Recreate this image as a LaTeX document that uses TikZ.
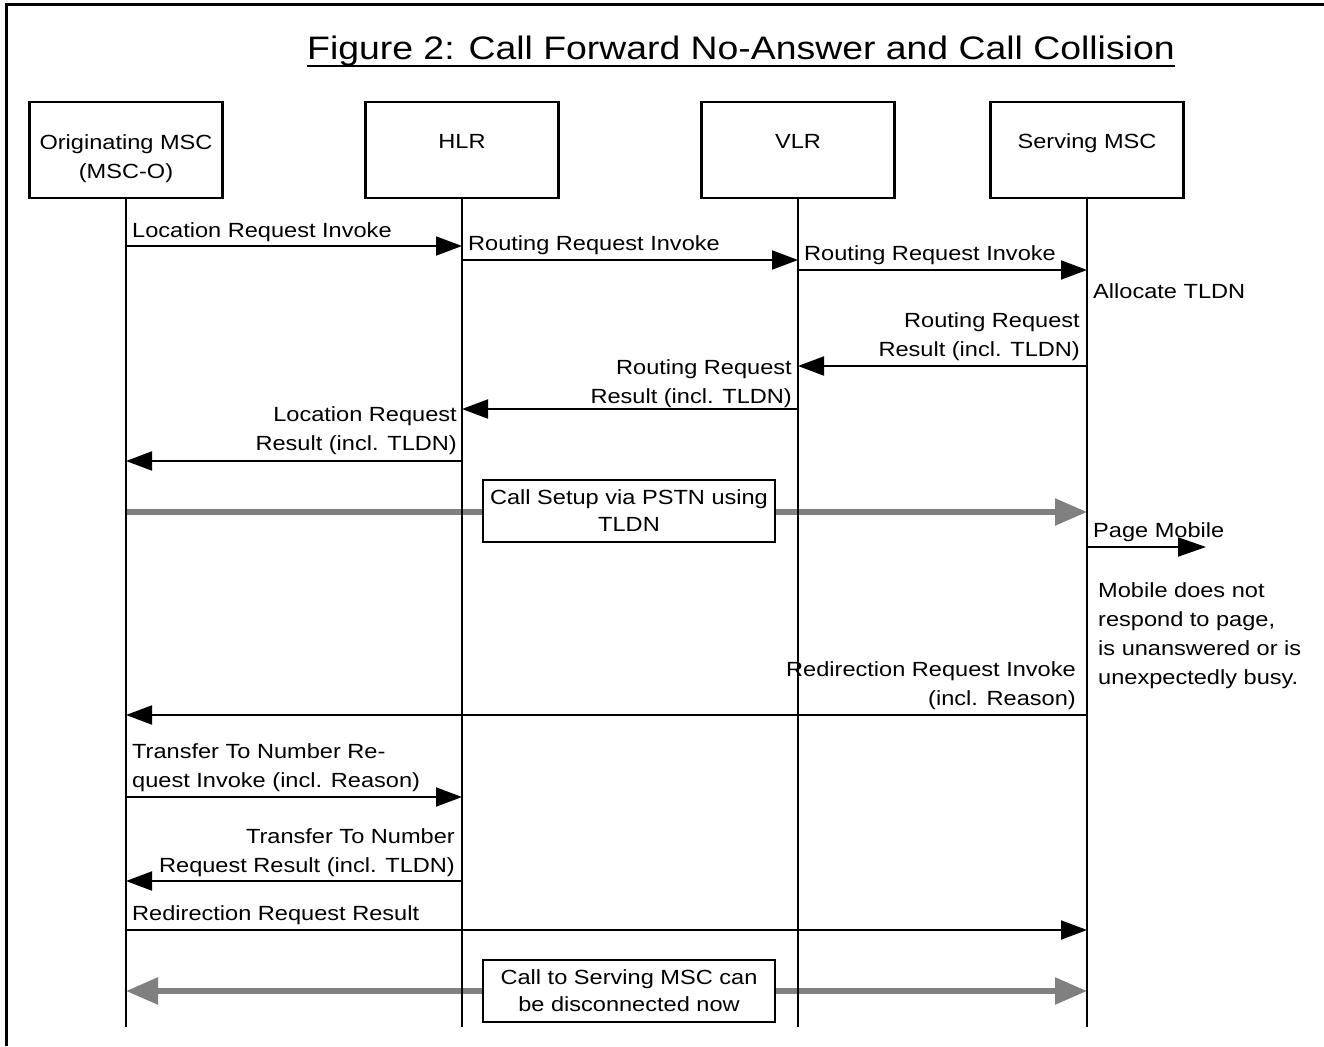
\documentclass[tikz,border=0pt]{standalone}
\usepackage{fontspec}
\setmainfont{Liberation Sans}[FakeStretch=1.15]
\usetikzlibrary{arrows.meta}
\definecolor{gline}{RGB}{128,128,128}
\begin{document}
\begin{tikzpicture}[x=1pt,y=-1pt,
  txt/.style={inner sep=0pt, font=\fontsize{20.5}{29}\selectfont},
  box/.style={draw, line width=2.5pt, minimum width=193pt, minimum height=96pt, inner sep=0pt},
  cbox/.style={draw, fill=white, line width=2.5pt, minimum width=292pt, minimum height=62pt, inner sep=0pt, align=center, font=\fontsize{20.5}{27}\selectfont},
  life/.style={line width=2.5pt},
  msg/.style={line width=2pt, -{Triangle[length=26pt,width=19pt]}},
  gmsg/.style={line width=5.5pt, draw=gline, -{Triangle[length=32pt,width=26pt]}},
  gdmsg/.style={line width=5.5pt, draw=gline, {Triangle[length=32pt,width=26pt]}-{Triangle[length=32pt,width=26pt]}}]
\useasboundingbox (0,0) rectangle (1324,1046);
% frame
\draw[line width=3pt] (6,1046) -- (6,5) -- (1324,5);
% title
\node[inner sep=0pt, anchor=base, font=\fontsize{32.5}{36}\selectfont] (title) at (741,60) {Figure 2: Call Forward No-Answer and Call Collision};
\draw[line width=2pt] (title.base west |- 0,66) -- (title.base east |- 0,66);
% entity boxes
\node[box] (o) at (126,150) {};
\node[box] (h) at (462,150) {};
\node[box] (v) at (798,150) {};
\node[box] (s) at (1087,150) {};
\node[txt, anchor=base, align=center] (ot) at (126,178) {Originating MSC\\(MSC-O)};
\node[txt, anchor=base] (ht) at (462,148) {HLR};
\node[txt, anchor=base] (vt) at (798,148) {VLR};
\node[txt, anchor=base] (st) at (1087,148) {Serving MSC};
\coordinate (oe) at (126,1027);
\coordinate (he) at (462,1027);
\coordinate (ve) at (798,1027);
\coordinate (se) at (1087,1027);
% gray arrows (under lifelines)
\draw[gmsg] (o.south |- 0,512) -- (s.south |- 0,512);
\node[cbox] (cs) at (629,511) {Call Setup via PSTN using\\TLDN};
\draw[gdmsg] (o.south |- 0,991) -- (s.south |- 0,991);
\node[cbox] (cd) at (629,991) {Call to Serving MSC can\\be disconnected now};
% lifelines
\draw[life] (o.south) -- (oe);
\draw[life] (h.south) -- (he);
\draw[life] (v.south) -- (ve);
\draw[life] (s.south) -- (se);
% messages
\draw[msg] (o.south |- 0,246) -- (h.south |- 0,246);
\node[txt, anchor=base west] (l1) at (132,237) {Location Request Invoke};
\draw[msg] (h.south |- 0,260) -- (v.south |- 0,260);
\node[txt, anchor=base west] (l2) at (468,250) {Routing Request Invoke};
\draw[msg] (v.south |- 0,270) -- (s.south |- 0,270);
\node[txt, anchor=base west] (l3) at (804,260) {Routing Request Invoke};
\node[txt, anchor=base west] (al) at (1093,298) {Allocate TLDN};
\draw[msg] (s.south |- 0,366) -- (v.south |- 0,366);
\node[txt, anchor=base east, align=right] (l5) at (1080,356) {Routing Request\\Result (incl. TLDN)};
\draw[msg] (v.south |- 0,409) -- (h.south |- 0,409);
\node[txt, anchor=base east, align=right] (l6) at (792,403) {Routing Request\\Result (incl. TLDN)};
\draw[msg] (h.south |- 0,461) -- (o.south |- 0,461);
\node[txt, anchor=base east, align=right] (l7) at (457,450) {Location Request\\Result (incl. TLDN)};
\coordinate (pm) at (1206,547);
\draw[msg, -{Triangle[length=28pt,width=19pt]}] (s.south |- 0,547) -- (pm);
\node[txt, anchor=base west] (l9) at (1093,537) {Page Mobile};
\node[txt, anchor=base west, align=left] (nt) at (1098,684) {Mobile does not\\respond to page,\\is unanswered or is\\unexpectedly busy.};
\draw[msg] (s.south |- 0,715) -- (o.south |- 0,715);
\node[txt, anchor=base east, align=right] (l11) at (1076,705) {Redirection Request Invoke\\(incl. Reason)};
\draw[msg] (o.south |- 0,797) -- (h.south |- 0,797);
\node[txt, anchor=base west, align=left] (l12) at (132,787) {Transfer To Number Re-\\quest Invoke (incl. Reason)};
\draw[msg] (h.south |- 0,881) -- (o.south |- 0,881);
\node[txt, anchor=base east, align=right] (l13) at (455,872) {Transfer To Number\\Request Result (incl. TLDN)};
\draw[msg] (o.south |- 0,930) -- (s.south |- 0,930);
\node[txt, anchor=base west] (l14) at (132,920) {Redirection Request Result};
\end{tikzpicture}
\end{document}
